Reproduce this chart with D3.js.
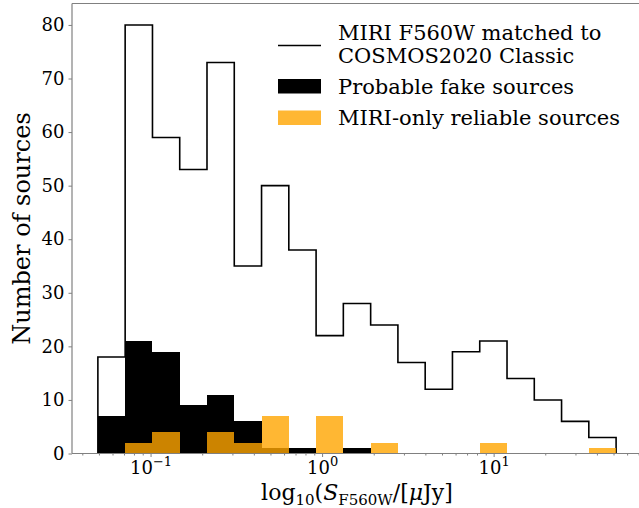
<!DOCTYPE html>
<html>
<head>
<meta charset="utf-8">
<script src="https://cdn.jsdelivr.net/npm/d3@7"></script>
<style>
  html, body { margin: 0; padding: 0; background: #fff; }
  svg { display: block; font-family: "DejaVu Serif", serif; }
</style>
</head>
<body>
<svg id="chart" width="639" height="508"></svg>
<script>
(function () {
  "use strict";

  // bin edges (µJy), log-spaced
  const binEdges = [0.0493, 0.0711, 0.1026, 0.1479, 0.2133, 0.3076, 0.4436, 0.6397,
    0.9226, 1.330, 1.919, 2.767, 3.990, 5.754, 8.299, 11.97, 17.26, 24.89, 35.89, 51.76];

  const totalCounts = [18, 80, 59, 53, 73, 35, 50, 38, 22, 28, 24, 17, 12, 19, 21, 14, 10, 6, 3];
  const fakeCounts = [7, 21, 19, 9, 11, 6, 1, 1, 0, 1, 0, 0, 0, 0, 0, 0, 0, 0, 0];
  const miriOnlyCounts = [0, 2, 4, 0, 4, 2, 7, 0, 7, 0, 2, 0, 0, 0, 2, 0, 0, 0, 1];

  const yTicks = [0, 10, 20, 30, 40, 50, 60, 70, 80];
  const xMajor = [0.1, 1, 10];
  const xMajorExp = ["\u22121", "0", "1"];

  const legendLabels = [
    ["MIRI F560W matched to", "COSMOS2020 Classic"],
    ["Probable fake sources"],
    ["MIRI-only reliable sources"]
  ];

  const svg = d3.select("#chart");
  const W = 639;
  const left = 72, right = 642, top = 3.5, bottom = 453.5;
  const spineColor = "#808080";

  const x = d3.scaleLog().domain([Math.pow(10, -1.458), Math.pow(10, 1.865)]).range([left, right]);
  const y = d3.scaleLinear().domain([0, 84]).range([bottom, top]);

  svg.append("rect").attr("width", W).attr("height", 508).attr("fill", "#fff");

  const plot = svg.append("g");

  // step outline of the matched sample
  const pts = [[binEdges[0], 0]];
  totalCounts.forEach((c, i) => {
    pts.push([binEdges[i], c]);
    pts.push([binEdges[i + 1], c]);
  });
  pts.push([binEdges[binEdges.length - 1], 0]);
  plot.append("path")
    .attr("d", d3.line().x((d) => x(d[0])).y((d) => y(d[1]))(pts))
    .attr("fill", "none")
    .attr("stroke", "#000")
    .attr("stroke-width", 1.6)
    .attr("stroke-linejoin", "miter");

  function bars(counts, fill, opacity) {
    plot.append("g").selectAll("rect")
      .data(counts.map((c, i) => ({ c, i })).filter((d) => d.c > 0))
      .join("rect")
      .attr("x", (d) => x(binEdges[d.i]))
      .attr("width", (d) => x(binEdges[d.i + 1]) - x(binEdges[d.i]))
      .attr("y", (d) => y(d.c))
      .attr("height", (d) => y(0) - y(d.c))
      .attr("fill", fill)
      .attr("fill-opacity", opacity)
      .attr("shape-rendering", "crispEdges");
  }
  bars(fakeCounts, "#000", 1);
  bars(miriOnlyCounts, "#FFA500", 0.8);

  // spines
  const sp = svg.append("g").attr("stroke", spineColor).attr("stroke-width", 1.2).attr("fill", "none");
  sp.append("line").attr("x1", left).attr("x2", left).attr("y1", top).attr("y2", bottom);
  sp.append("line").attr("x1", left).attr("x2", right).attr("y1", top).attr("y2", top);
  sp.append("line").attr("x1", left).attr("x2", right).attr("y1", bottom).attr("y2", bottom);

  // y axis
  const yAxis = svg.append("g")
    .attr("transform", `translate(${left},0)`)
    .call(d3.axisLeft(y).tickValues(yTicks).tickSize(3.5).tickPadding(4));
  yAxis.select(".domain").remove();
  yAxis.selectAll(".tick line").attr("stroke", spineColor);
  yAxis.selectAll(".tick text")
    .attr("fill", "#000")
    .style("font-family", "DejaVu Serif")
    .style("font-size", "18px");

  // x axis, minor ticks
  const minor = [];
  [0.01, 0.1, 1, 10].forEach((dec) => {
    for (let k = 2; k <= 9; k++) minor.push(dec * k);
  });
  const xMin = x.domain()[0], xMax = x.domain()[1];
  const xMinorAxis = svg.append("g")
    .attr("transform", `translate(0,${bottom})`)
    .call(d3.axisBottom(x).tickValues(minor.filter((v) => v >= xMin && v <= xMax)).tickSize(2).tickFormat(""));
  xMinorAxis.select(".domain").remove();
  xMinorAxis.selectAll(".tick line").attr("stroke", spineColor);

  const xAxis = svg.append("g")
    .attr("transform", `translate(0,${bottom})`)
    .call(d3.axisBottom(x).tickValues(xMajor).tickSize(3.5).tickFormat(""));
  xAxis.select(".domain").remove();
  xAxis.selectAll(".tick line").attr("stroke", spineColor);
  xAxis.selectAll(".tick").each(function (d, i) {
    const t = d3.select(this).append("text")
      .attr("y", 20.5)
      .attr("fill", "#000")
      .attr("text-anchor", "middle")
      .style("font-family", "DejaVu Serif")
      .style("font-size", "18px");
    t.append("tspan").text("10");
    t.append("tspan").attr("dy", -8).style("font-size", "13px").text(xMajorExp[i]);
  });

  // axis labels
  svg.append("text")
    .attr("transform", `translate(30,${(top + bottom) / 2}) rotate(-90)`)
    .attr("text-anchor", "middle")
    .style("font-size", "24px")
    .text("Number of sources");

  const xl = svg.append("text")
    .attr("x", 357)
    .attr("y", 500)
    .attr("text-anchor", "middle")
    .style("font-size", "22px");
  xl.append("tspan").text("log");
  xl.append("tspan").attr("dy", 5).style("font-size", "15px").text("10");
  xl.append("tspan").attr("dy", -5).text("(");
  xl.append("tspan").style("font-style", "italic").text("S");
  xl.append("tspan").attr("dy", 5).style("font-size", "15px").text("F560W");
  xl.append("tspan").attr("dy", -5).text("/[");
  xl.append("tspan").style("font-style", "italic").text("\u03bc");
  xl.append("tspan").text("Jy]");

  // legend
  const lg = svg.append("g").style("font-size", "21px");
  lg.append("line").attr("x1", 278).attr("x2", 321).attr("y1", 45.5).attr("y2", 45.5)
    .attr("stroke", "#000").attr("stroke-width", 1.6);
  lg.append("rect").attr("x", 278).attr("y", 79).attr("width", 43).attr("height", 14.5).attr("fill", "#000");
  lg.append("rect").attr("x", 278).attr("y", 110.5).attr("width", 43).attr("height", 14.5)
    .attr("fill", "#FFA500").attr("fill-opacity", 0.8);
  const baselines = [[40, 63], [94], [125]];
  legendLabels.forEach((lines, i) => {
    lines.forEach((s, j) => {
      lg.append("text").attr("x", 338).attr("y", baselines[i][j]).text(s);
    });
  });
})();
</script>
</body>
</html>
